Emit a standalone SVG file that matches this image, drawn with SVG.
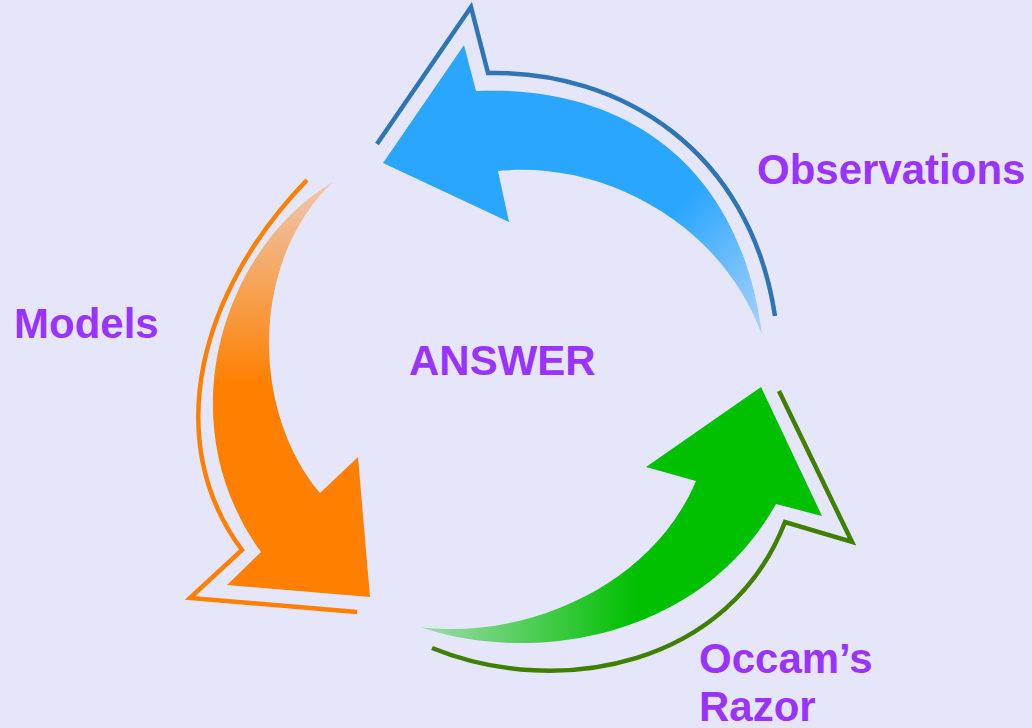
<svg xmlns="http://www.w3.org/2000/svg" width="1032" height="728" viewBox="0 0 1032 728">
  <style>
    .lbl { font-family: "Liberation Sans", Arial, sans-serif; font-weight: bold; font-size: 42px; fill: #9933FF; }
    .outline { fill: none; stroke-width: 4.5; stroke-linejoin: miter; }
  </style>
  <defs>
    <linearGradient id="gBlue" gradientUnits="userSpaceOnUse" x1="600" y1="170" x2="765" y2="335">
      <stop offset="0" stop-color="#2AA6FF"/>
      <stop offset="0.35" stop-color="#2AA6FF"/>
      <stop offset="1" stop-color="#2AA6FF" stop-opacity="0.3"/>
    </linearGradient>
    <linearGradient id="gOrange" gradientUnits="userSpaceOnUse" x1="0" y1="185" x2="0" y2="420">
      <stop offset="0" stop-color="#FF8000" stop-opacity="0.3"/>
      <stop offset="0.85" stop-color="#FF8000"/>
      <stop offset="1" stop-color="#FF8000"/>
    </linearGradient>
    <linearGradient id="gGreen" gradientUnits="userSpaceOnUse" x1="420" y1="0" x2="660" y2="0">
      <stop offset="0" stop-color="#00C000" stop-opacity="0.3"/>
      <stop offset="0.9" stop-color="#00C000"/>
      <stop offset="1" stop-color="#00C000"/>
    </linearGradient>
  </defs>
  <rect width="1032" height="728" fill="#E6E6FA"/>

  <g id="connectors">
    <g id="arrow-blue">
      <path d="M476,91 C620,85 740,160 762,335 C720,220 600,160 498,171 L509,222 L383,163 L464,45 Z" fill="url(#gBlue)"/>
      <path class="outline" stroke="#2E75B6" d="M377,144 L471,7 L488,73 C620,70 750,150 775,316"/>
    </g>
    <g id="arrow-orange">
      <path d="M333,182 C225,245 165,420 261,552 L227,585 L370,597 L358,457 L320,493 C250,410 250,260 333,182 Z" fill="url(#gOrange)"/>
      <path class="outline" stroke="#FF8000" d="M307,180 C200,290 160,440 242,550 L190,598 L357,612"/>
    </g>
    <g id="arrow-green">
      <path d="M420,627 C530,665 700,640 776,504 L822,516 L761,387 L646,467 L696,481 C650,590 520,640 420,627 Z" fill="url(#gGreen)"/>
      <path class="outline" stroke="#408000" d="M432,648 C560,700 730,665 785,522 L852,542 L779,391"/>
    </g>
  </g>

  <g id="node-observations"><text class="lbl" x="757" y="184">Observations</text></g>
  <g id="node-models"><text class="lbl" x="14" y="338">Models</text></g>
  <g id="node-answer"><text class="lbl" x="409" y="375">ANSWER</text></g>
  <g id="node-occam"><text class="lbl" x="699" y="673">Occam’s</text><text class="lbl" x="699" y="721">Razor</text></g>
</svg>
